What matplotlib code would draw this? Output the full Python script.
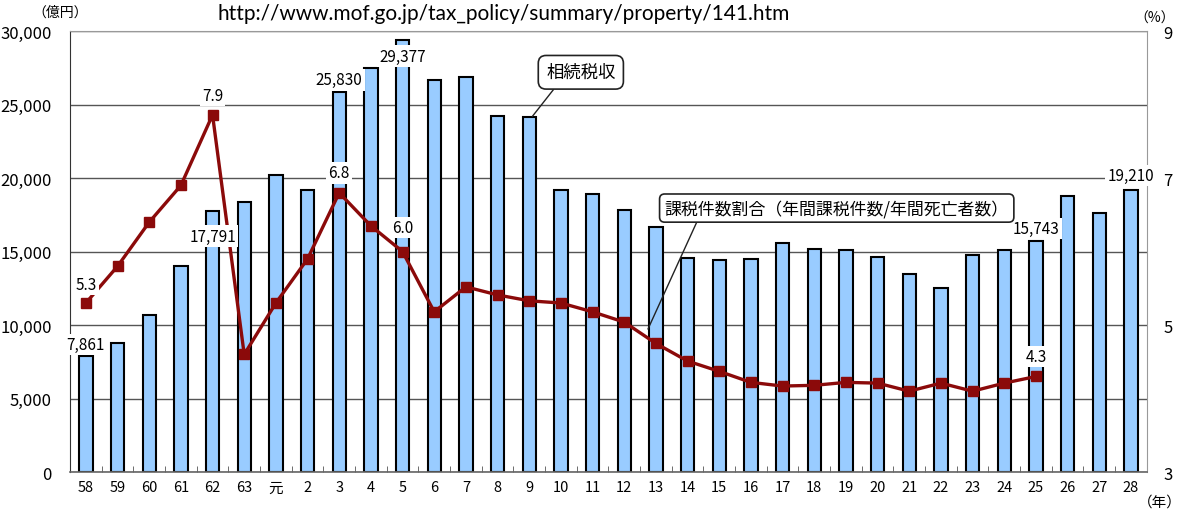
import numpy as np
import matplotlib
matplotlib.use("Agg")
import matplotlib.pyplot as plt
from matplotlib.ticker import FixedLocator, FuncFormatter

plt.rcParams['font.family'] = ['Noto Sans CJK JP', 'DejaVu Sans']

# 年度（昭和58年〜平成28年）
years = ['58', '59', '60', '61', '62', '63', '元', '2', '3', '4', '5', '6', '7', '8', '9',
         '10', '11', '12', '13', '14', '15', '16', '17', '18', '19', '20', '21', '22',
         '23', '24', '25', '26', '27', '28']

# 相続税収（億円）
tax_revenue = [7861, 8800, 10700, 14000, 17791, 18400, 20200, 19200, 25830, 27500,
               29377, 26700, 26900, 24200, 24150, 19200, 18900, 17800, 16700, 14550,
               14400, 14500, 15600, 15200, 15100, 14600, 13500, 12500, 14800, 15100,
               15743, 18800, 17600, 19210]

# 課税件数割合（%） 昭和58年〜平成25年
ratio = [5.3, 5.8, 6.4, 6.9, 7.86, 4.6, 5.3, 5.9, 6.8, 6.35, 6.0, 5.18, 5.52, 5.41,
         5.33, 5.3, 5.18, 5.04, 4.75, 4.51, 4.37, 4.22, 4.17, 4.18, 4.22, 4.21,
         4.1, 4.21, 4.1, 4.21, 4.3]

bar_color = '#99CCFF'
line_color = '#8B0A0A'
grid_color = '#555555'

fig = plt.figure(figsize=(11.81, 5.10), dpi=100)
ax = fig.add_axes([0.0593, 0.0725, 0.9117, 0.8645])
x = np.arange(len(years))

ax.set_xlim(-0.5, len(years) - 0.5)
ax.set_ylim(0, 30000)
ax.set_yticks(np.arange(0, 30001, 5000))
ax.yaxis.set_major_formatter(FuncFormatter(lambda v, p: f'{int(v):,}'))
ax.yaxis.grid(True, color=grid_color, linewidth=1.0)
ax.set_axisbelow(True)
ax.bar(x, tax_revenue, width=0.42, color=bar_color, edgecolor='black', linewidth=1.5, zorder=2)

ax.set_xticks(x)
ax.set_xticklabels(years, fontsize=10.5)
ax.xaxis.set_minor_locator(FixedLocator(np.arange(-0.5, len(years), 1.0)))
ax.tick_params(axis='x', which='major', length=0, pad=6)
ax.tick_params(axis='x', which='minor', direction='in', length=4, color='#555555')
ax.tick_params(axis='y', length=0, pad=13, labelsize=12)
for side in ['top', 'right']:
    ax.spines[side].set_color('#999999')
ax.spines['left'].set_color('#333333')
ax.spines['bottom'].set_color('#666666')
ax.spines['bottom'].set_linewidth(1.2)

ax2 = ax.twinx()
ax2.set_ylim(3, 9)
ax2.set_yticks([3, 5, 7, 9])
ax2.tick_params(axis='y', length=0, pad=12, labelsize=12)
for side in ['top', 'right', 'left', 'bottom']:
    ax2.spines[side].set_visible(False)
ax2.plot(x[:len(ratio)], ratio, color=line_color, linewidth=2.4, marker='s',
         markersize=7, zorder=3)

box = dict(boxstyle='square,pad=0.15', facecolor='white', edgecolor='none')

# データラベル（税収）: 折れ線より前面に出すため ax2 上に描く
bar_labels = [(0, 8100, 'bottom'), (4, 16050, 'center'), (8, 26100, 'bottom'),
              (10, 28300, 'center'), (30, 16000, 'bottom'), (33, 19600, 'bottom')]
for i, yv, va in bar_labels:
    ax2.text(x[i], yv, f'{tax_revenue[i]:,}', ha='center', va=va, fontsize=11,
             bbox=box, zorder=5, transform=ax.transData)

# データラベル（割合）
for i, off, txt in [(0, 0.25, '5.3'), (4, 0.27, '7.9'), (8, 0.27, '6.8'),
                    (10, 0.33, '6.0'), (30, 0.27, '4.3')]:
    ax2.text(x[i], ratio[i] + off, txt, ha='center', va='center',
             fontsize=11, bbox=box, zorder=5)

callout = dict(boxstyle='round,pad=0.3', facecolor='white', edgecolor='#222222', linewidth=1.2)
ax2.annotate('相続税収', xy=(14.1, 24200), xytext=(15.63, 27200), ha='center', va='center',
             fontsize=12.5, bbox=dict(callout, boxstyle='round,pad=0.45'), zorder=6,
             xycoords=ax.transData, textcoords=ax.transData,
             arrowprops=dict(arrowstyle='-', color='#222222', lw=1.0, relpos=(0.2, 0),
                             shrinkA=0, shrinkB=0))
ax2.annotate('課税件数割合（年間課税件数/年間死亡者数）', xy=(17.75, 9730), xytext=(23.71, 17960),
             ha='center', va='center', fontsize=12.2, bbox=callout, zorder=6,
             xycoords=ax.transData, textcoords=ax.transData,
             arrowprops=dict(arrowstyle='-', color='#222222', lw=1.0, relpos=(0.1, 0),
                             shrinkA=0, shrinkB=0))

fig.text(60 / 1181, 1 - 13 / 510, '（億円）', ha='center', va='center', fontsize=10)
fig.text(1155 / 1181, 1 - 19 / 510, '（%）', ha='center', va='center', fontsize=10)
fig.text(1160 / 1181, 1 - 503 / 510, '（年）', ha='center', va='center', fontsize=10.5)
fig.text(504 / 1181, 1 - 14 / 510, 'http://www.mof.go.jp/tax_policy/summary/property/141.htm',
         ha='center', va='center', fontsize=15, family=['Lato', 'DejaVu Sans'])

fig.savefig('out.png', dpi=100)
